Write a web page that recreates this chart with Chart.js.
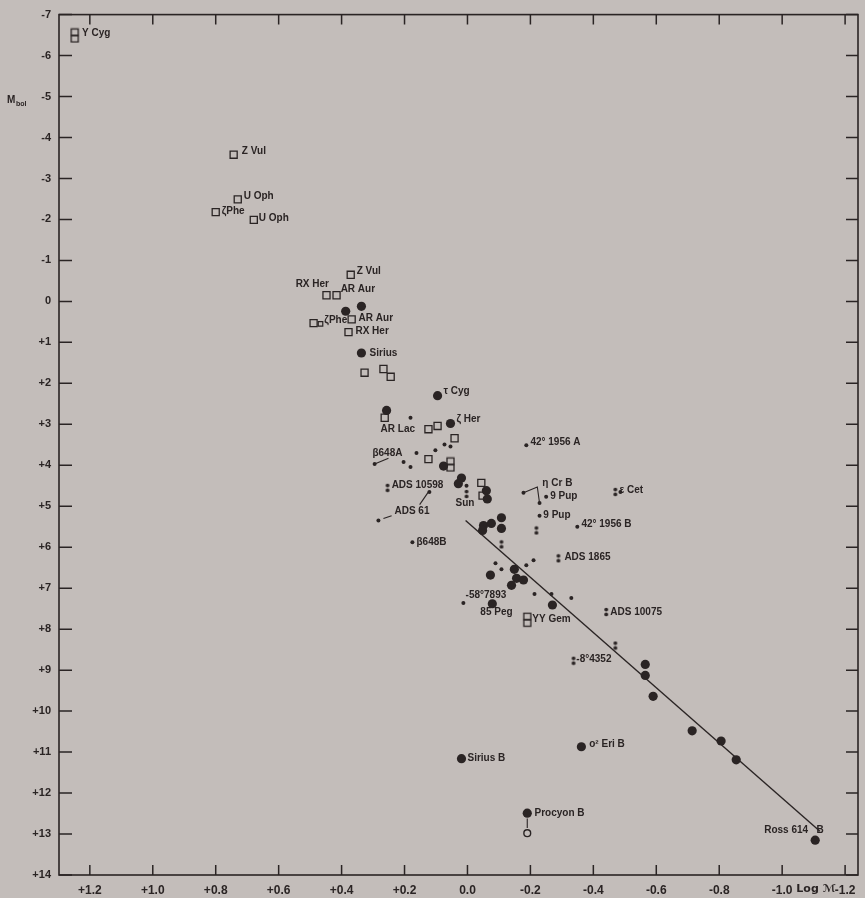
<!DOCTYPE html>
<html><head><meta charset="utf-8">
<script src="https://cdn.jsdelivr.net/npm/chart.js@4.4.1/dist/chart.umd.min.js"></script>
<style>html,body{margin:0;padding:0;background:#c3bdba;}canvas{display:block;}</style>
</head><body>
<canvas id="c" width="865" height="898"></canvas>
<script>
// ---- tick labels ----
const xTickValues = [1.2, 1.0, 0.8, 0.6, 0.4, 0.2, 0.0, -0.2, -0.4, -0.6, -0.8, -1.0, -1.2];
const xTickLabels = ['+1.2', '+1.0', '+0.8', '+0.6', '+0.4', '+0.2', '0.0', '-0.2', '-0.4', '-0.6', '-0.8', '-1.0', '-1.2'];
const yTickValues = [-7, -6, -5, -4, -3, -2, -1, 0, 1, 2, 3, 4, 5, 6, 7, 8, 9, 10, 11, 12, 13, 14];
const yTickLabels = ['-7', '-6', '-5', '-4', '-3', '-2', '-1', '0', '+1', '+2', '+3', '+4', '+5', '+6', '+7', '+8', '+9', '+10', '+11', '+12', '+13', '+14'];

// ---- series: [log M, M_bol] ----
const bigDots = [
  [0.387, 0.24], [0.337, 0.12], [0.337, 1.26], [0.095, 2.30], [0.257, 2.66], [0.054, 2.98],
  [0.076, 4.02], [0.019, 4.31], [0.029, 4.45], [-0.060, 4.62], [-0.063, 4.82],
  [-0.051, 5.47], [-0.048, 5.59], [-0.076, 5.42], [-0.108, 5.28], [-0.108, 5.54],
  [-0.073, 6.68], [-0.149, 6.54], [-0.156, 6.76], [-0.178, 6.80], [-0.140, 6.93],
  [-0.270, 7.41], [-0.079, 7.38], [-0.565, 8.86], [-0.565, 9.13], [-0.590, 9.64],
  [-0.362, 10.87], [0.019, 11.16], [-0.190, 12.49], [-0.714, 10.48], [-0.806, 10.73],
  [-0.854, 11.19], [-1.105, 13.15]
];
const smallDots = [
  [0.181, 2.84], [0.073, 3.49], [0.054, 3.54], [0.102, 3.63], [0.295, 3.97], [0.162, 3.70],
  [0.203, 3.92], [0.181, 4.04], [0.121, 4.65], [0.283, 5.35], [0.003, 4.50], [0.175, 5.88],
  [-0.089, 6.39], [-0.108, 6.54], [-0.187, 6.44], [-0.210, 6.32], [-0.213, 7.14],
  [-0.267, 7.14], [-0.330, 7.24], [0.013, 7.36], [-0.187, 3.51], [-0.178, 4.67],
  [-0.229, 4.92], [-0.250, 4.77], [-0.229, 5.23], [-0.486, 4.65], [-0.349, 5.50]
];
const doubleDots = [
  [0.254, 4.55], [0.003, 4.70], [-0.219, 5.59], [-0.108, 5.93], [-0.470, 4.65],
  [-0.289, 6.27], [-0.441, 7.58], [-0.470, 8.40], [-0.337, 8.77]
];
const squares = [
  [0.743, -3.58], [0.730, -2.49], [0.800, -2.18], [0.679, -1.99], [0.371, -0.65],
  [0.448, -0.15], [0.416, -0.15], [0.489, 0.53], [0.368, 0.44], [0.378, 0.75],
  [0.327, 1.74], [0.267, 1.65], [0.244, 1.84], [0.263, 2.84], [0.124, 3.12],
  [0.095, 3.04], [0.041, 3.34], [0.124, 3.85], [-0.044, 4.43], [-0.048, 4.74]
];
const smallSquares = [[0.467, 0.55]];
const doubleSquares = [[1.248, -6.49], [0.054, 3.98], [-0.190, 7.77]];
const openCircles = [[-0.190, 12.98]];
const fitLine = [[0.006, 5.35], [-1.120, 12.93]];
const connectors = [
  [[0.295, 3.97], [0.251, 3.83]],
  [[0.267, 5.30], [0.241, 5.23]],
  [[0.124, 4.65], [0.152, 4.96]],
  [[-0.178, 4.67], [-0.222, 4.53], [-0.229, 4.92]],
  [[-0.190, 12.62], [-0.190, 12.85]]
];
// star names: [text, log M, M_bol] where the text begins
const starLabels = [
  ['Y Cyg', 1.225, -6.54], ['Z Vul', 0.717, -3.66], ['U Oph', 0.711, -2.57], ['ζPhe', 0.781, -2.20],
  ['U Oph', 0.663, -2.03], ['Z Vul', 0.352, -0.73], ['RX Her', 0.546, -0.41], ['AR Aur', 0.403, -0.30],
  ['ζPhe', 0.455, 0.46], ['AR Aur', 0.346, 0.41], ['RX Her', 0.356, 0.73], ['Sirius', 0.311, 1.26],
  ['τ Cyg', 0.076, 2.20], ['AR Lac', 0.276, 3.12], ['ζ Her', 0.035, 2.88], ['β648A', 0.302, 3.70],
  ['ADS 10598', 0.241, 4.48], ['ADS 61', 0.232, 5.11], ['Sun', 0.038, 4.92], ['β648B', 0.162, 5.88],
  ['-58°7893', 0.006, 7.17], ['85 Peg', -0.041, 7.58], ['YY Gem', -0.206, 7.77],
  ['42° 1956 A', -0.200, 3.44], ['η Cr B', -0.238, 4.43], ['9 Pup', -0.263, 4.75], ['9 Pup', -0.241, 5.23],
  ['ε Cet', -0.483, 4.60], ['42° 1956 B', -0.362, 5.45], ['ADS 1865', -0.308, 6.25],
  ['ADS 10075', -0.454, 7.58], ['-8°4352', -0.346, 8.74], ['o² Eri B', -0.387, 10.80],
  ['Sirius B', 0.000, 11.16], ['Procyon B', -0.213, 12.49], ['Ross 614   B', -0.943, 12.91]
];

const INK = '#2a2424';
const pts = a => a.map(p => ({x: p[0], y: p[1]}));

function makeDoubleDot() {
  const c = document.createElement('canvas'); c.width = 6; c.height = 10;
  const g = c.getContext('2d'); g.fillStyle = INK;
  g.beginPath(); g.arc(3, 2.6, 1.9, 0, Math.PI * 2); g.fill();
  g.beginPath(); g.arc(3, 7.4, 1.9, 0, Math.PI * 2); g.fill();
  return c;
}
function makeDoubleSquare() {
  const c = document.createElement('canvas'); c.width = 11; c.height = 16;
  const g = c.getContext('2d'); g.strokeStyle = INK; g.lineWidth = 1.3;
  g.strokeRect(2, 1.5, 7, 6.3); g.strokeRect(2, 8.2, 7, 6.3);
  return c;
}

const datasets = [];
datasets.push({type: 'line', data: pts(fitLine), borderColor: INK, borderWidth: 1.4, pointRadius: 0, showLine: true, fill: false});
connectors.forEach(seg => datasets.push({type: 'line', data: pts(seg), borderColor: INK, borderWidth: 1.1, pointRadius: 0, showLine: true, fill: false}));
datasets.push({data: pts(bigDots), pointStyle: 'circle', pointRadius: 4.6, backgroundColor: INK, borderColor: INK, borderWidth: 0});
datasets.push({data: pts(smallDots), pointStyle: 'circle', pointRadius: 2, backgroundColor: INK, borderColor: INK, borderWidth: 0});
datasets.push({data: pts(doubleDots), pointStyle: makeDoubleDot(), pointRadius: 4});
datasets.push({data: pts(squares), pointStyle: 'rect', pointRadius: 5, backgroundColor: 'rgba(0,0,0,0)', borderColor: INK, borderWidth: 1.3});
datasets.push({data: pts(smallSquares), pointStyle: 'rect', pointRadius: 3.2, backgroundColor: 'rgba(0,0,0,0)', borderColor: INK, borderWidth: 1.2});
datasets.push({data: pts(doubleSquares), pointStyle: makeDoubleSquare(), pointRadius: 6});
datasets.push({data: pts(openCircles), pointStyle: 'circle', pointRadius: 3.4, backgroundColor: 'rgba(0,0,0,0)', borderColor: INK, borderWidth: 1.4});

const framePlugin = {
  id: 'frame',
  beforeDraw(chart) {
    const ctx = chart.ctx;
    ctx.save(); ctx.fillStyle = '#c3bdba'; ctx.fillRect(0, 0, chart.width, chart.height); ctx.restore();
  },
  beforeDatasetsDraw(chart) {
    const {ctx, chartArea: a, scales: {x, y}} = chart;
    ctx.save();
    ctx.strokeStyle = INK; ctx.lineWidth = 1.6;
    ctx.strokeRect(a.left, a.top, a.right - a.left, a.bottom - a.top);
    ctx.lineWidth = 1.5;
    x.ticks.forEach(t => {
      const px = x.getPixelForValue(t.value);
      ctx.beginPath(); ctx.moveTo(px, a.bottom); ctx.lineTo(px, a.bottom - 10);
      ctx.moveTo(px, a.top); ctx.lineTo(px, a.top + 10); ctx.stroke();
    });
    y.ticks.forEach(t => {
      const py = y.getPixelForValue(t.value);
      ctx.beginPath(); ctx.moveTo(a.left, py); ctx.lineTo(a.left + 13, py);
      ctx.moveTo(a.right, py); ctx.lineTo(a.right - 12, py); ctx.stroke();
    });
    ctx.restore();
  },
  afterDatasetsDraw(chart) {
    const {ctx, chartArea: a, scales: {x, y}} = chart;
    ctx.save();
    ctx.fillStyle = INK;
    ctx.font = 'bold 10px "Liberation Sans", Arial, sans-serif';
    ctx.textBaseline = 'middle'; ctx.textAlign = 'left';
    starLabels.forEach(l => ctx.fillText(l[0], x.getPixelForValue(l[1]), y.getPixelForValue(l[2])));
    // axis titles
    const my = y.getPixelForValue(-4.88);
    ctx.font = 'bold 10px "Liberation Sans", Arial, sans-serif';
    ctx.fillText('M', 7, my - 1);
    ctx.font = 'bold 7px "Liberation Sans", Arial, sans-serif';
    ctx.fillText('bol', 16, my + 3);
    ctx.font = 'bold 11px "DejaVu Sans", "Liberation Sans", sans-serif';
    ctx.textAlign = 'left';
    ctx.fillText('Log ℳ', x.getPixelForValue(-1.045), a.bottom + 14);
    ctx.restore();
  }
};

new Chart(document.getElementById('c'), {
  type: 'scatter',
  data: {datasets},
  options: {
    responsive: false, animation: false, devicePixelRatio: 1,
    layout: {padding: {top: 7, right: 6, left: 0, bottom: 0}},
    plugins: {legend: {display: false}, tooltip: {enabled: false}},
    scales: {
      x: {
        type: 'linear', reverse: true, min: -1.241, max: 1.298,
        grid: {display: false, drawTicks: false}, border: {display: false},
        afterBuildTicks: s => { s.ticks = xTickValues.map(v => ({value: v})); },
        afterFit: s => { s.height = 23; },
        ticks: {
          autoSkip: false, maxRotation: 0, padding: 8, color: INK,
          font: {family: '"Liberation Sans", Arial, sans-serif', size: 12, weight: 'bold'},
          callback: v => { const i = xTickValues.findIndex(t => Math.abs(t - v) < 1e-6); return i >= 0 ? xTickLabels[i] : ''; }
        }
      },
      y: {
        type: 'linear', reverse: true, min: -7, max: 14,
        grid: {display: false, drawTicks: false}, border: {display: false},
        afterBuildTicks: s => { s.ticks = yTickValues.map(v => ({value: v})); },
        afterFit: s => { s.width = 59; },
        ticks: {
          autoSkip: false, padding: 8, color: INK,
          font: {family: '"Liberation Sans", Arial, sans-serif', size: 11, weight: 'bold'},
          callback: v => { const i = yTickValues.indexOf(v); return i >= 0 ? yTickLabels[i] : ''; }
        }
      }
    }
  },
  plugins: [framePlugin]
});
</script>
</body></html>
